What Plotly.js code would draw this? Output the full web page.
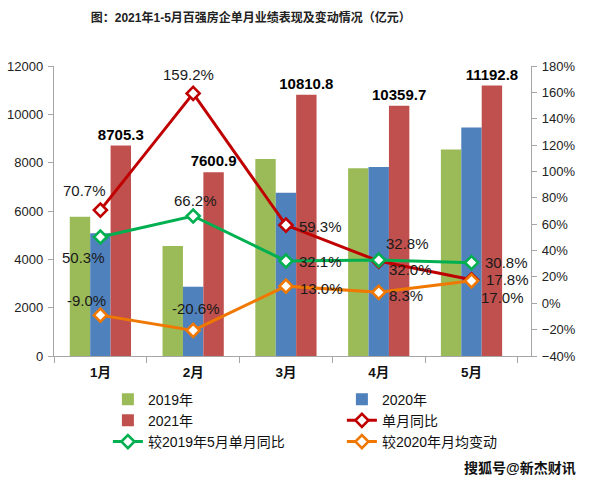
<!DOCTYPE html>
<html>
<head>
<meta charset="utf-8">
<script src="https://cdn.plot.ly/plotly-3.0.1.min.js"></script>
<style>html,body{margin:0;padding:0;background:#fff;}#chart{width:600px;height:487px;}</style>
</head>
<body>
<div id="chart"></div>
<script>
// ---- data ----
const months = ['1月', '2月', '3月', '4月', '5月'];
const sales2019 = [5760, 4550, 8150, 7770, 8550];
const sales2020 = [5080, 2870, 6760, 7820, 9460];
const sales2021 = [8705.3, 7600.9, 10810.8, 10359.7, 11192.8];
const yoyMonthly = [70.7, 159.2, 59.3, 32.0, 17.8];
const vs2019May = [50.3, 66.2, 32.1, 32.8, 30.8];
const vs2020Avg = [-9.0, -20.6, 13.0, 8.3, 17.0];

const seriesNames = ['2019年', '2020年', '2021年', '单月同比', '较2019年5月单月同比', '较2020年月均变动'];
const titleText = '图：2021年1-5月百强房企单月业绩表现及变动情况（亿元）';
const watermark = '搜狐号@新杰财讯';

// ---- styles ----
const FONT = 'Liberation Sans, Arial, Noto Sans CJK SC, sans-serif';
const CJK = 'Liberation Sans, Noto Sans CJK SC, sans-serif';
const AXIS = '#A6A6A6';
const colors = {g: '#9BBB59', b: '#4F81BD', r: '#C0504D', line1: '#C00000', line2: '#00B050', line3: '#F07800'};

// label offsets (px) for line labels
const offYoy = {dx: [-16, -5, 35, 32, 36], dy: [20, 18.5, -1, -8, 0]};
const offV19 = {dx: [-17, 2, 35, 29, 35], dy: [-21, 16, -0.5, 17, 0]};
const offV20 = {dx: [-14, 3, 36, 27, 31], dy: [15, 22, -2, -3.6, -17]};

function lineTrace(name, vals, color) {
  return {
    type: 'scatter', mode: 'lines+markers', name: name, x: months, y: vals, yaxis: 'y2',
    line: {color: color, width: 3},
    marker: {symbol: 'diamond', size: 10, color: '#ffffff', line: {color: color, width: 2.6}},
    cliponaxis: false
  };
}

const traces = [
  {type: 'bar', name: seriesNames[0], x: months, y: sales2019, marker: {color: colors.g}},
  {type: 'bar', name: seriesNames[1], x: months, y: sales2020, marker: {color: colors.b}},
  {type: 'bar', name: seriesNames[2], x: months, y: sales2021, marker: {color: colors.r},
   text: sales2021.map(v => v.toFixed(1)), textposition: 'outside', constraintext: 'none', cliponaxis: false,
   textfont: {family: FONT, size: 15, color: '#000', weight: 'bold'}},
  lineTrace(seriesNames[3], yoyMonthly, colors.line1),
  lineTrace(seriesNames[4], vs2019May, colors.line2),
  lineTrace(seriesNames[5], vs2020Avg, colors.line3)
];

const annotations = [];
function addLabels(vals, off) {
  vals.forEach((v, i) => {
    annotations.push({
      xref: 'x', yref: 'y2', x: months[i], y: v, text: v.toFixed(1) + '%',
      showarrow: false, xanchor: 'center', yanchor: 'middle',
      xshift: off.dx[i], yshift: off.dy[i],
      font: {family: FONT, size: 15, color: '#1a1a1a'}
    });
  });
}
addLabels(yoyMonthly, offYoy);
addLabels(vs2019May, offV19);
addLabels(vs2020Avg, offV20);
annotations.push({
  xref: 'paper', yref: 'paper', x: 0.977, y: -0.386, text: watermark, showarrow: false,
  xanchor: 'center', yanchor: 'middle', font: {family: CJK, size: 14, color: '#111', weight: 'bold'}
});

const layout = {
  width: 600, height: 487,
  margin: {l: 54, r: 69, t: 66, b: 131, pad: 0},
  paper_bgcolor: '#ffffff', plot_bgcolor: '#ffffff',
  showlegend: true,
  title: {text: titleText, x: 0.418, xanchor: 'center', y: 0.963, yanchor: 'middle',
          font: {family: CJK, size: 12, color: '#222', weight: 'bold'}},
  barmode: 'group', bargap: 0.34, bargroupgap: 0,
  xaxis: {type: 'category', tickson: 'boundaries', ticks: 'outside', ticklen: 6, tickcolor: AXIS,
          showline: true, linecolor: AXIS, linewidth: 1.2, showgrid: false, zeroline: false,
          tickfont: {family: CJK, size: 13.5, color: '#111', weight: 'bold'}, ticklabelstandoff: 4},
  yaxis: {range: [0, 12000], dtick: 2000, tickformat: 'd', ticks: 'outside', ticklen: 5, tickcolor: AXIS,
          showline: true, linecolor: AXIS, linewidth: 1.2, showgrid: false, zeroline: false,
          tickfont: {family: FONT, size: 13, color: '#222'}, ticklabelstandoff: 2},
  yaxis2: {overlaying: 'y', side: 'right', range: [-40, 180], dtick: 20, ticksuffix: '%',
           ticks: 'outside', ticklen: 5, tickcolor: AXIS, showline: true, linecolor: AXIS, linewidth: 1.2,
           showgrid: false, zeroline: false, tickfont: {family: FONT, size: 13, color: '#222'}, ticklabelstandoff: 2},
  legend: {orientation: 'h', x: 0.113, xanchor: 'left', y: -0.095, yanchor: 'top',
           entrywidth: 189, entrywidthmode: 'pixels', traceorder: 'normal',
           font: {family: CJK, size: 14, color: '#111'}, bgcolor: 'rgba(0,0,0,0)'},
  annotations: annotations
};

Plotly.newPlot('chart', traces, layout, {displayModeBar: false, staticPlot: true});
</script>
</body>
</html>
